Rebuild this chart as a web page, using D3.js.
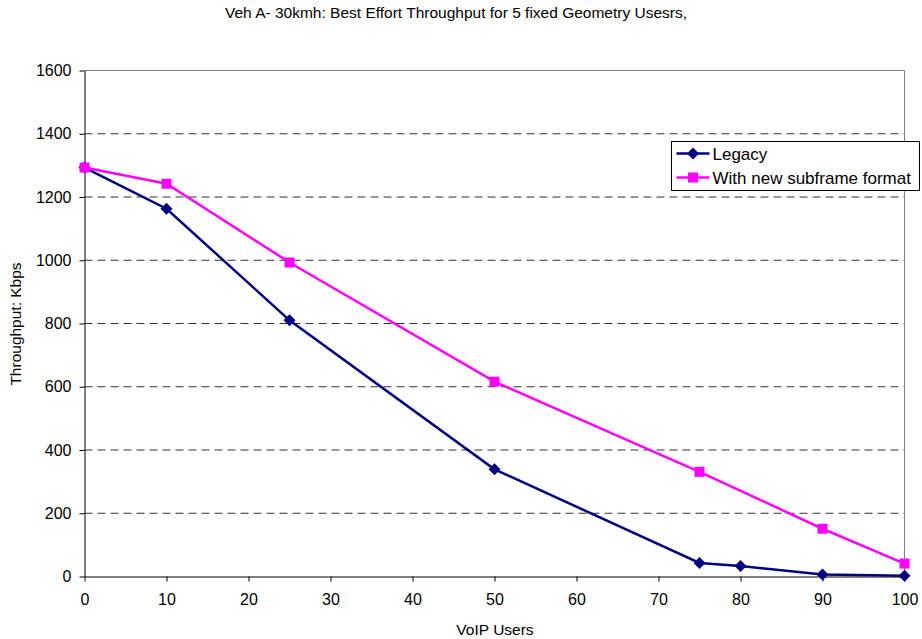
<!DOCTYPE html>
<html>
<head>
<meta charset="utf-8">
<script src="https://cdn.jsdelivr.net/npm/d3@7"></script>
<style>
  body { margin: 0; background: #fff; }
  svg { display: block; font-family: Arial, "Liberation Sans", sans-serif; }
  .grid line { stroke: #333; stroke-dasharray: 8,5; }
  .axis path, .axis line { stroke: #000; }
  .axis text { font-size: 16px; fill: #000; }
</style>
</head>
<body>
<svg width="922" height="639"></svg>
<script>
var xValues = [0, 10, 25, 50, 75, 80, 90, 100];
var legacy = [1293, 1163, 810, 339, 43, 33, 6, 2];
var newFormat = [1293, 1242, 993, 616, 331, null, 151, 41];
var seriesNames = ['Legacy', 'With new subframe format'];
var xTicks = [0, 10, 20, 30, 40, 50, 60, 70, 80, 90, 100];
var yTicks = [0, 200, 400, 600, 800, 1000, 1200, 1400, 1600];

var svg = d3.select('svg');
var margin = {left: 84.5, top: 70.5, right: 904.5, bottom: 576.5};

var x = d3.scaleLinear().domain([0, 100]).range([margin.left, margin.right]);
var y = d3.scaleLinear().domain([0, 1600]).range([margin.bottom, margin.top]);

// title
svg.append('text')
  .attr('x', 456)
  .attr('y', 18)
  .attr('text-anchor', 'middle')
  .style('font-size', '15.5px')
  .text('Veh A- 30kmh: Best Effort Throughput for 5 fixed Geometry Usesrs,');

// gridlines
svg.append('g')
  .attr('class', 'grid')
  .selectAll('line')
  .data(yTicks.filter(function(d) { return d > 0 && d < 1600; }))
  .enter()
  .append('line')
  .attr('x1', margin.left)
  .attr('x2', margin.right)
  .attr('y1', function(d) { return y(d); })
  .attr('y2', function(d) { return y(d); });

// plot border (top and right)
svg.append('path')
  .attr('d', 'M' + margin.left + ',' + y(1600) + 'H' + margin.right + 'V' + margin.bottom)
  .attr('fill', 'none')
  .attr('stroke', '#808080');

// axes
svg.append('g')
  .attr('class', 'axis')
  .attr('transform', 'translate(0,' + margin.bottom + ')')
  .call(d3.axisBottom(x).tickValues(xTicks).tickFormat(d3.format('d'))
    .tickSize(5).tickPadding(12).tickSizeOuter(0));

svg.append('g')
  .attr('class', 'axis')
  .attr('transform', 'translate(' + margin.left + ',0)')
  .call(d3.axisLeft(y).tickValues(yTicks).tickFormat(d3.format('d'))
    .tickSize(5).tickPadding(8).tickSizeOuter(0));

// axis titles
svg.append('text')
  .attr('x', 495)
  .attr('y', 635)
  .attr('text-anchor', 'middle')
  .style('font-size', '15.5px')
  .text('VoIP Users');

svg.append('text')
  .attr('transform', 'translate(21,' + 324 + ') rotate(-90)')
  .attr('text-anchor', 'middle')
  .style('font-size', '15.5px')
  .text('Throughput: Kbps');

// series
var diamond = 'M0,-6L6,0L0,6L-6,0Z';
var series = [
  {name: seriesNames[0], values: legacy, color: '#000080', path: diamond},
  {name: seriesNames[1], values: newFormat, color: '#FF00FF', path: d3.symbol().type(d3.symbolSquare).size(100)()}
];

var line = d3.line()
  .x(function(d) { return x(d[0]); })
  .y(function(d) { return y(d[1]); });

series.forEach(function(s) {
  var pts = xValues.map(function(v, i) { return [v, s.values[i]]; })
    .filter(function(d) { return d[1] !== null; });

  svg.append('path')
    .datum(pts)
    .attr('fill', 'none')
    .attr('stroke', s.color)
    .attr('stroke-width', 2.5)
    .attr('d', line);

  svg.append('g')
    .selectAll('path')
    .data(pts)
    .enter()
    .append('path')
    .attr('transform', function(d) { return 'translate(' + x(d[0]) + ',' + y(d[1]) + ')'; })
    .attr('d', s.path)
    .attr('fill', s.color);
});

// legend
var legend = svg.append('g').attr('transform', 'translate(671.5,141.5)');
legend.append('rect')
  .attr('width', 248)
  .attr('height', 49)
  .attr('fill', '#fff')
  .attr('stroke', '#000');

series.forEach(function(s, i) {
  var ly = 12 + i * 24;
  var g = legend.append('g').attr('transform', 'translate(0,' + ly + ')');
  g.append('line')
    .attr('x1', 5).attr('x2', 38)
    .attr('stroke', s.color)
    .attr('stroke-width', 2.5);
  g.append('path')
    .attr('transform', 'translate(21.5,0)')
    .attr('d', s.path)
    .attr('fill', s.color);
  g.append('text')
    .attr('x', 41)
    .attr('y', 6)
    .style('font-size', '17px')
    .text(s.name);
});
</script>
</body>
</html>
